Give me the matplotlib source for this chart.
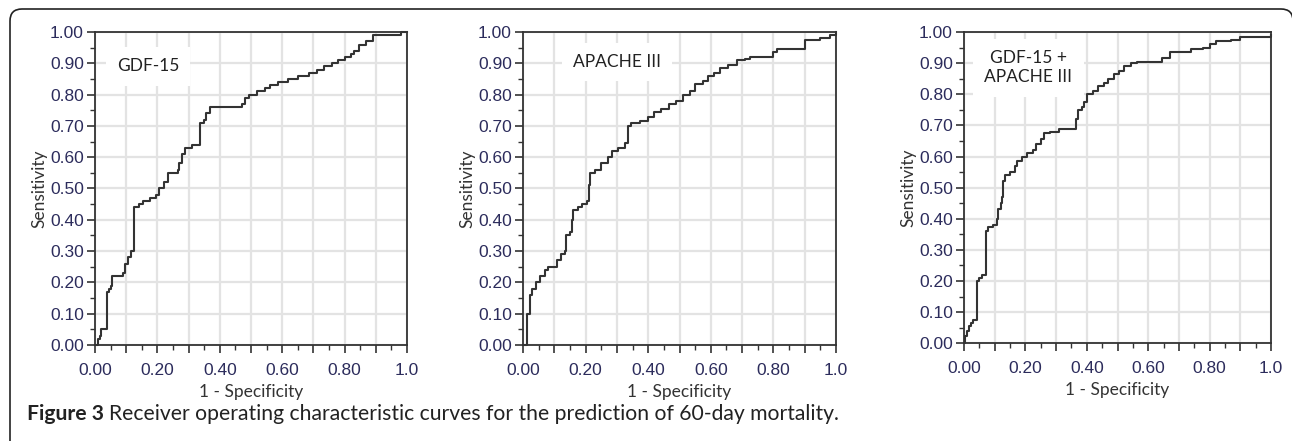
import matplotlib.pyplot as plt
import numpy as np
from matplotlib.patches import FancyBboxPatch
from matplotlib.ticker import FixedLocator

# ROC curve corner points (1 - specificity, sensitivity)
gdf_fpr = [0.00, 0.01, 0.015, 0.02, 0.04, 0.045, 0.05, 0.055, 0.09, 0.095, 0.105, 0.115,
           0.125, 0.14, 0.155, 0.175, 0.195, 0.205, 0.22, 0.235, 0.265, 0.27, 0.28, 0.29,
           0.31, 0.335, 0.35, 0.355, 0.37, 0.47, 0.48, 0.495, 0.52, 0.545, 0.56, 0.585,
           0.62, 0.65, 0.685, 0.71, 0.735, 0.76, 0.78, 0.80, 0.82, 0.83, 0.845, 0.87,
           0.89, 0.98, 1.00]
gdf_tpr = [0.00, 0.02, 0.03, 0.05, 0.17, 0.18, 0.19, 0.22, 0.23, 0.26, 0.28, 0.30,
           0.44, 0.45, 0.46, 0.47, 0.48, 0.50, 0.52, 0.55, 0.56, 0.58, 0.61, 0.63,
           0.64, 0.71, 0.72, 0.74, 0.76, 0.77, 0.79, 0.80, 0.81, 0.82, 0.83, 0.84,
           0.85, 0.86, 0.87, 0.88, 0.89, 0.90, 0.91, 0.92, 0.93, 0.94, 0.96, 0.97,
           0.99, 1.00, 1.00]

apache_fpr = [0.00, 0.012, 0.022, 0.028, 0.04, 0.055, 0.07, 0.08, 0.11, 0.12, 0.135, 0.138,
              0.15, 0.155, 0.16, 0.175, 0.19, 0.205, 0.21, 0.215, 0.23, 0.25, 0.27, 0.285,
              0.305, 0.325, 0.335, 0.345, 0.375, 0.40, 0.42, 0.44, 0.465, 0.49, 0.51, 0.535,
              0.55, 0.575, 0.59, 0.61, 0.63, 0.655, 0.685, 0.71, 0.725, 0.80, 0.81, 0.90,
              0.95, 0.98, 1.00]
apache_tpr = [0.00, 0.10, 0.16, 0.18, 0.20, 0.22, 0.24, 0.25, 0.27, 0.29, 0.30, 0.35,
              0.36, 0.40, 0.43, 0.44, 0.45, 0.46, 0.51, 0.55, 0.56, 0.58, 0.60, 0.62,
              0.63, 0.645, 0.70, 0.71, 0.715, 0.73, 0.745, 0.755, 0.77, 0.78, 0.80, 0.81,
              0.835, 0.845, 0.86, 0.87, 0.885, 0.895, 0.91, 0.915, 0.92, 0.935, 0.945, 0.975,
              0.98, 0.99, 1.00]

combo_fpr = [0.00, 0.003, 0.01, 0.015, 0.022, 0.03, 0.043, 0.05, 0.058, 0.072, 0.079, 0.095,
             0.106, 0.112, 0.12, 0.125, 0.128, 0.135, 0.15, 0.165, 0.172, 0.19, 0.205, 0.225,
             0.235, 0.25, 0.26, 0.28, 0.31, 0.365, 0.37, 0.385, 0.39, 0.40, 0.42, 0.435,
             0.455, 0.47, 0.49, 0.505, 0.52, 0.545, 0.565, 0.645, 0.67, 0.74, 0.78, 0.80,
             0.82, 0.87, 0.90, 1.00]
combo_tpr = [0.00, 0.025, 0.04, 0.055, 0.065, 0.075, 0.20, 0.21, 0.22, 0.36, 0.375, 0.38,
             0.40, 0.43, 0.45, 0.47, 0.52, 0.54, 0.55, 0.57, 0.585, 0.60, 0.61, 0.62,
             0.64, 0.655, 0.675, 0.68, 0.69, 0.72, 0.75, 0.76, 0.775, 0.80, 0.81, 0.825,
             0.835, 0.85, 0.865, 0.875, 0.89, 0.90, 0.905, 0.915, 0.935, 0.945, 0.95, 0.96,
             0.97, 0.975, 0.985, 0.99]

panel_labels = ['GDF-15', 'APACHE III', 'GDF-15 +\nAPACHE III']
label_pos = [(0.17, 0.89), (0.30, 0.905), (0.21, 0.885)]
x_ticklabels = ['0.00', '0.20', '0.40', '0.60', '0.80', '1.0']
y_ticklabels = ['0.00', '0.10', '0.20', '0.30', '0.40', '0.50',
                '0.60', '0.70', '0.80', '0.90', '1.00']

# tick labels in an Arial-like face, everything else in a Calibri-like face
plt.rcParams['font.family'] = ['Liberation Sans', 'DejaVu Sans']
text_font = ['Lato', 'DejaVu Sans']
tick_color = '#2c2c5c'

W, H = 1292, 441
fig = plt.figure(figsize=(W / 100, H / 100), dpi=100)

# outer rounded frame (right and bottom run off the image)
frame = FancyBboxPatch((10 / 100, -0.3), (1293 - 10) / 100, (H - 9) / 100 + 0.3,
                       boxstyle='round,pad=0,rounding_size=0.12',
                       transform=fig.dpi_scale_trans, fill=False,
                       edgecolor='#222222', linewidth=1.2, zorder=0)
fig.patches.append(frame)

# axes boxes in pixels: left, top, right, bottom
boxes = [(95, 32, 407, 345), (523, 32, 836, 345), (964, 32, 1271, 343.3)]
series = [(gdf_fpr, gdf_tpr), (apache_fpr, apache_tpr), (combo_fpr, combo_tpr)]

for (l, t, r, b), (fpr, tpr), lab, pos in zip(boxes, series, panel_labels, label_pos):
    ax = fig.add_axes([l / W, (H - b) / H, (r - l) / W, (b - t) / H])
    ax.set_xlim(0, 1)
    ax.set_ylim(0, 1)

    ax.set_xticks(np.arange(0, 1.01, 0.1))
    ax.set_xticklabels(['' if i % 2 else x_ticklabels[i // 2] for i in range(11)])
    ax.xaxis.set_minor_locator(FixedLocator(np.arange(0.05, 1.0, 0.1)))
    ax.set_yticks(np.arange(0, 1.01, 0.1))
    ax.set_yticklabels(y_ticklabels)
    ax.yaxis.set_minor_locator(FixedLocator(np.arange(0.05, 1.0, 0.1)))

    ax.tick_params(which='major', length=6, width=1.2, color='#333333',
                   labelsize=12.5, labelcolor=tick_color, pad=2)
    ax.tick_params(axis='x', which='major', pad=7)
    ax.tick_params(which='minor', length=3.5, width=1.0, color='#333333')

    ax.grid(True, which='major', color='#e3e3e3', linewidth=1.6)
    ax.set_axisbelow(True)
    for sp in ax.spines.values():
        sp.set_color('#333333')
        sp.set_linewidth(1.3)

    ax.plot(fpr, tpr, drawstyle='steps-post', color='#333333', linewidth=1.5,
            clip_on=False, zorder=3)

    ax.text(pos[0], pos[1], lab, ha='center', va='center', fontsize=12.5,
            family=text_font, color='#222222', linespacing=1.25, zorder=4,
            bbox=dict(facecolor='white', edgecolor='none', pad=8))

    ax.set_xlabel('1 - Specificity', fontsize=12.5, family=text_font,
                  color='#333333', labelpad=4)
    ax.set_ylabel('Sensitivity', fontsize=12.5, family=text_font,
                  color='#333333', labelpad=2)

# caption: bold "Figure 3" followed by regular text
cap_y = 1 - 414 / H
t1 = fig.text(27 / W, cap_y, 'Figure 3', fontsize=15.2, fontweight='bold',
              family=text_font, va='center', color='#222222')
fig.canvas.draw()
bb = t1.get_window_extent(renderer=fig.canvas.get_renderer())
fig.text(bb.x1 / W + 5 / W, cap_y,
         'Receiver operating characteristic curves for the prediction of 60-day mortality.',
         fontsize=15.2, family=text_font, va='center', color='#222222')

fig.savefig('out.png', dpi=100)
